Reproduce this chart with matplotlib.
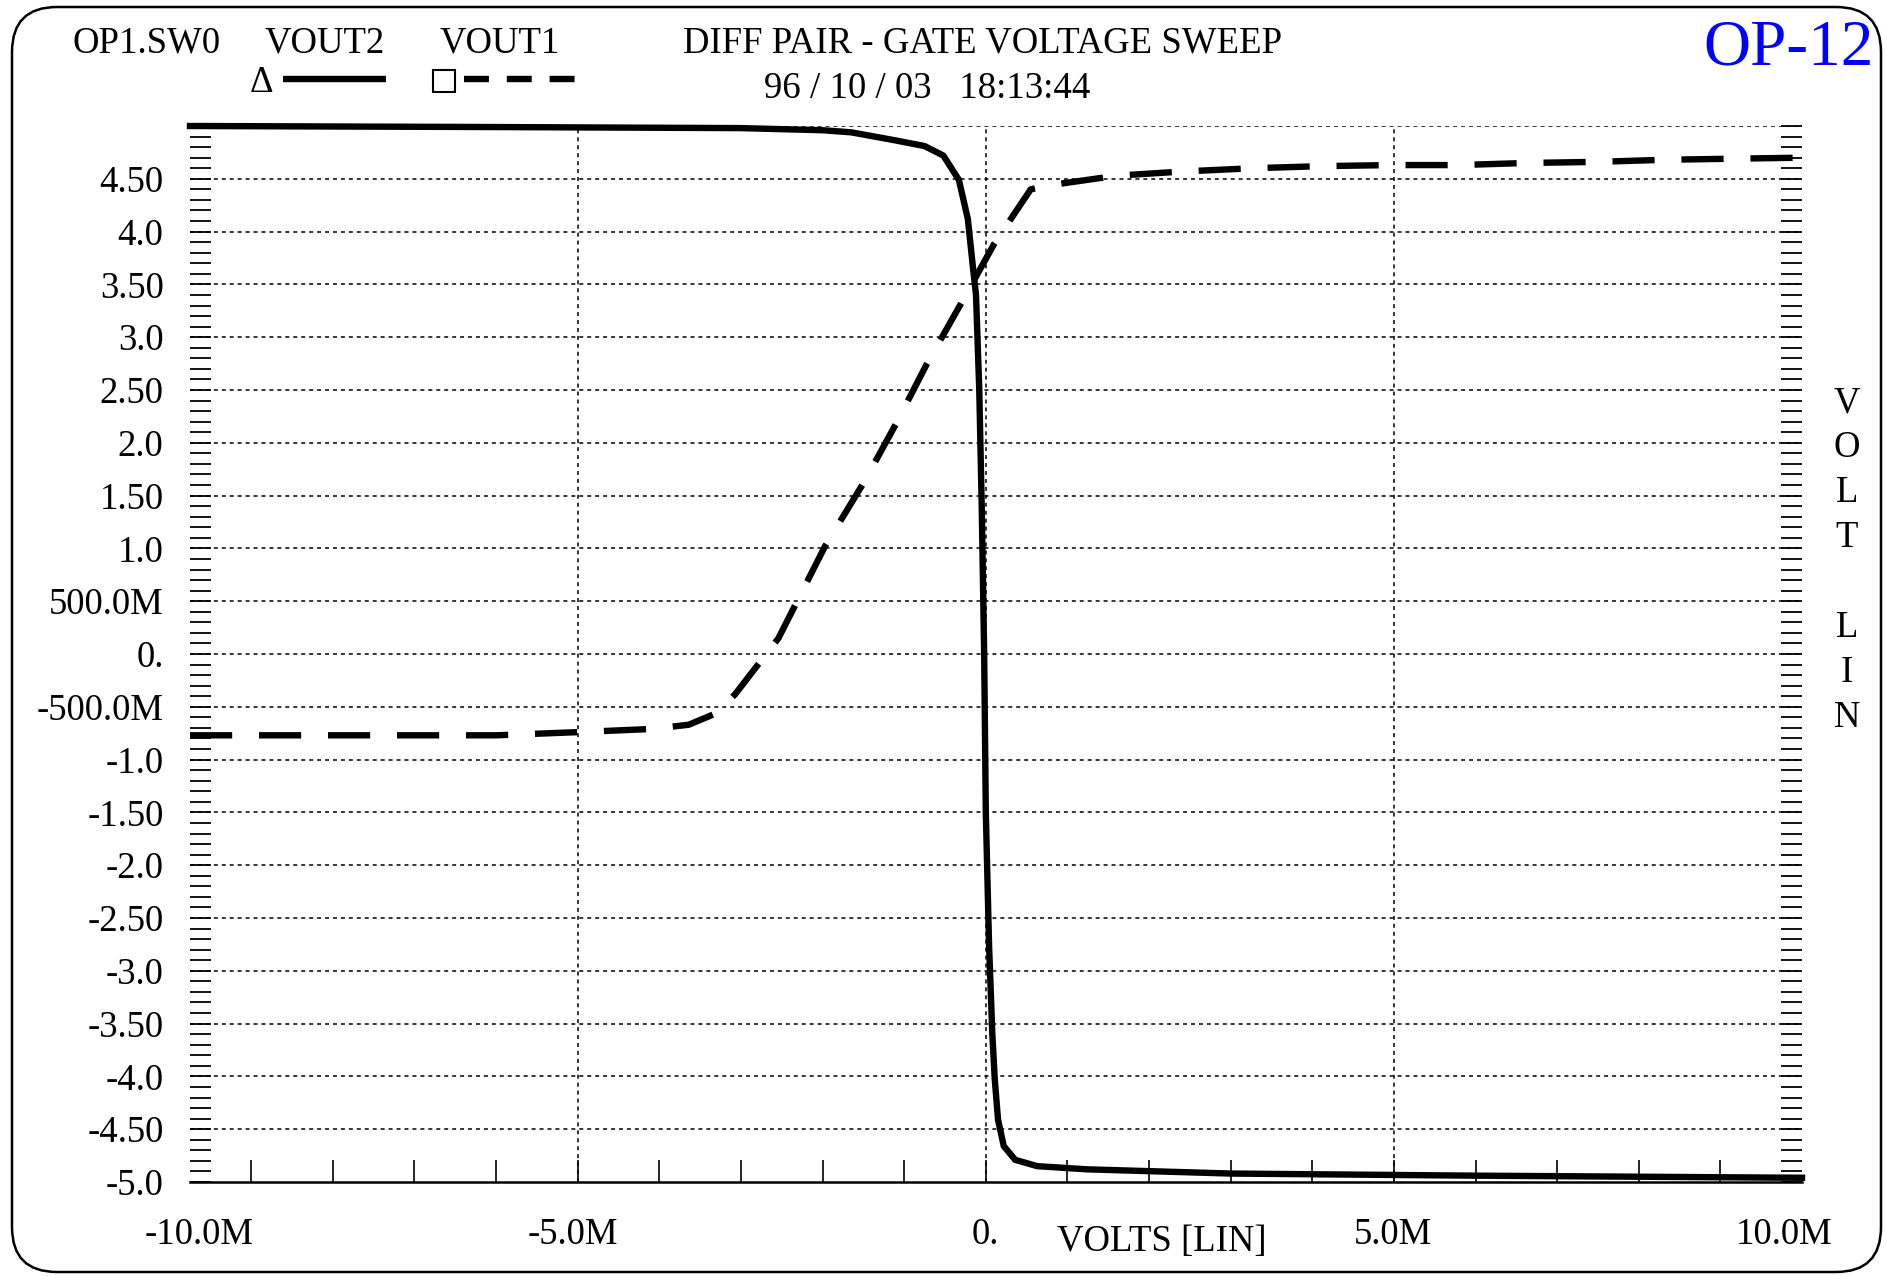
import numpy as np
import matplotlib
matplotlib.use("Agg")
import matplotlib.pyplot as plt
from matplotlib.patches import FancyBboxPatch
from matplotlib.lines import Line2D
from matplotlib.transforms import IdentityTransform, blended_transform_factory

plt.rcParams['font.family'] = ['Liberation Serif', 'DejaVu Serif']

# sweep voltage (M = milli-volts in spice notation) and the two outputs
vout2_x = [-9.75, -6.0, -3.0, -2.0, -1.65, -1.15, -0.75, -0.52, -0.33, -0.22,
           -0.16, -0.12, -0.08, -0.05, -0.02, 0.0, 0.04, 0.08, 0.11, 0.15,
           0.22, 0.36, 0.63, 1.24, 3.0, 6.0, 10.0]
vout2_y = [5.00, 4.99, 4.98, 4.96, 4.94, 4.87, 4.81, 4.72, 4.49, 4.12,
           3.68, 3.40, 2.50, 1.40, 0.0, -1.49, -2.76, -3.60, -4.03, -4.41,
           -4.66, -4.79, -4.85, -4.88, -4.92, -4.94, -4.96]

vout1_x = [-9.75, -6.0, -5.0, -4.1, -3.64, -3.3, -3.07, -2.76, -2.54, -1.97,
           -1.49, -1.10, -0.72, -0.31, 0.10, 0.55, 0.79, 1.61, 2.43, 3.27,
           4.12, 4.97, 5.79, 6.63, 7.47, 8.31, 9.13, 10.0]
vout1_y = [-0.77, -0.77, -0.74, -0.71, -0.67, -0.56, -0.38, -0.07, 0.15, 1.02,
           1.63, 2.18, 2.75, 3.31, 3.88, 4.40, 4.44, 4.53, 4.57, 4.60,
           4.62, 4.63, 4.63, 4.65, 4.66, 4.68, 4.69, 4.70]

ytick_vals = [-5.0, -4.5, -4.0, -3.5, -3.0, -2.5, -2.0, -1.5, -1.0, -0.5,
              0.0, 0.5, 1.0, 1.5, 2.0, 2.5, 3.0, 3.5, 4.0, 4.5, 5.0]
ytick_labels = ['-5.0', '-4.50', '-4.0', '-3.50', '-3.0', '-2.50', '-2.0',
                '-1.50', '-1.0', '-500.0M', '0.', '500.0M', '1.0', '1.50',
                '2.0', '2.50', '3.0', '3.50', '4.0', '4.50', '']
grid_y = ytick_vals[1:]
grid_x = [-5.0, 0.0, 5.0]
xminor = list(range(-9, 10))
xtick_labels = ['-10.0M', '-5.0M', '0.', '5.0M', '10.0M']
xtick_label_pos = [-9.64, -5.06, 0.0, 4.99, 9.78]

W, H = 1887, 1276
fig = plt.figure(figsize=(W / 100, H / 100), dpi=100)
ax = fig.add_axes([190 / W, 94 / H, 1612 / W, 1056 / H])
ax.set_xlim(-9.75, 10.0)
ax.set_ylim(-5.0, 5.0)

dot = (0, (2.6, 2.6))
for g in grid_y:
    ax.axhline(g, color='black', lw=1.1, ls=dot, zorder=1)
for g in grid_x:
    ax.axvline(g, color='black', lw=1.1, ls=dot, zorder=1)

ax.plot(vout2_x, vout2_y, color='black', lw=4.6, clip_on=False, zorder=3)
ax.plot(vout1_x, vout1_y, color='black', lw=4.6, dashes=(6.6, 4.2),
        dash_capstyle='butt', clip_on=False, zorder=3)

for s in ['left', 'right', 'top']:
    ax.spines[s].set_visible(False)
ax.spines['bottom'].set_linewidth(1.8)

ax.set_yticks(ytick_vals, ytick_labels)
ax.set_yticks(np.arange(-5.0, 5.01, 0.1), minor=True)
ax.tick_params(axis='y', which='both', direction='in', left=True, right=True,
               length=15, width=1.3, labelsize=26.5, pad=19)
ax.set_xticks(xminor)
ax.set_xticklabels([])
ax.tick_params(axis='x', which='both', direction='in', bottom=True, top=False,
               length=16, width=1.2)

trans = blended_transform_factory(ax.transData, fig.transFigure)
for p, lab in zip(xtick_label_pos, xtick_labels):
    ax.text(p, 1 - 1235 / H, lab, transform=trans, ha='center', va='center',
            fontsize=26.5)
fig.text(1057 / W, 1 - 1242 / H, 'VOLTS [LIN]', ha='left', va='center',
         fontsize=26.5)

# header
fig.text(72 / W, 1 - 43 / H, 'OP1.SW0', ha='left', va='center', fontsize=26.5)
fig.text(265 / W, 1 - 43 / H, 'VOUT2', ha='left', va='center', fontsize=26.5)
fig.text(440 / W, 1 - 43 / H, 'VOUT1', ha='left', va='center', fontsize=26.5)
fig.text(983 / W, 1 - 43 / H, 'DIFF PAIR - GATE VOLTAGE SWEEP', ha='center',
         va='center', fontsize=26.5)
fig.text(927 / W, 1 - 89 / H, '96 / 10 / 03   18:13:44', ha='center',
         va='center', fontsize=26.5)
fig.text(1789 / W, 1 - 49 / H, 'OP-12', ha='center', va='center',
         fontsize=47, color='#0000FF')

fig.text(261 / W, 1 - 83 / H, 'Δ', ha='center', va='center', fontsize=26.5)
fig.add_artist(Line2D([283 / W, 386 / W], [1 - 79 / H, 1 - 79 / H],
                      transform=fig.transFigure, color='black', lw=4.6,
                      solid_capstyle='butt'))
fig.add_artist(Line2D([444 / W], [1 - 80.5 / H], transform=fig.transFigure,
                      marker='s', markersize=15.5, mfc='white', mec='black',
                      mew=1.5, ls='none'))
fig.add_artist(Line2D([464 / W, 576 / W], [1 - 79 / H, 1 - 79 / H],
                      transform=fig.transFigure, color='black', lw=4.6,
                      dashes=(3.9, 2.8), dash_capstyle='butt'))

# right axis label, stacked letters
for i, ch in enumerate('VOLT LIN'):
    fig.text(1847 / W, 1 - (403 + i * 45) / H, ch, ha='center', va='center',
             fontsize=26.5)

# rounded page frame
frame = FancyBboxPatch((12, 4), 1869, 1265,
                       boxstyle='round,pad=0,rounding_size=45',
                       transform=IdentityTransform(), fill=False,
                       edgecolor='black', lw=1.8)
fig.add_artist(frame)

fig.savefig('out.png', dpi=100)
